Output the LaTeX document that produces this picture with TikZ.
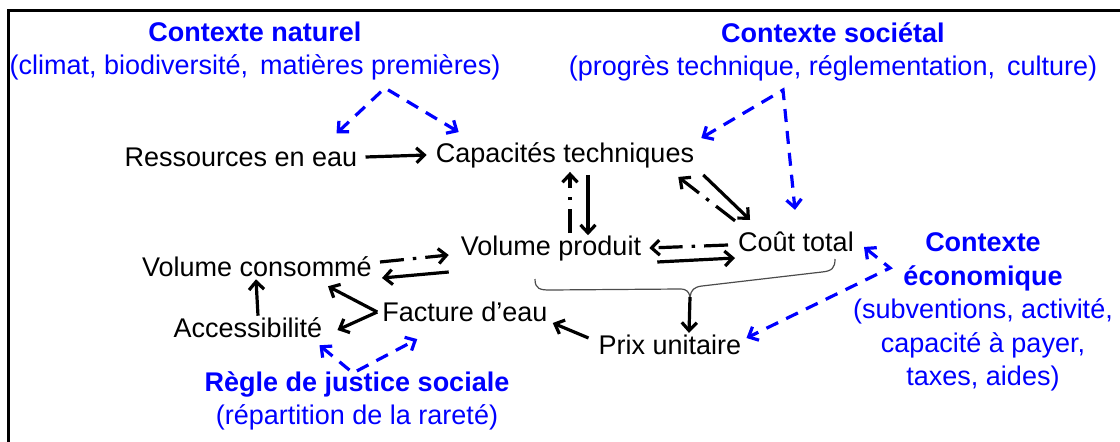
\documentclass[tikz,border=0pt]{standalone}
\usepackage{fontspec}
\setmainfont{Liberation Sans}
\usetikzlibrary{arrows.meta}

\begin{document}
\begin{tikzpicture}[x=1pt,y=-1pt,>={Straight Barb[length=8pt,width=15pt]},font=\fontsize{27}{33.5}\selectfont]
        \tikzset{term/.style={inner sep=0pt},
                 ctx/.style={text=blue, align=center, inner sep=0pt},
                 arr/.style={->, line width=3.2pt},
                 dd/.style={arr, dash pattern=on 24pt off 9pt on 3.5pt off 9pt},
                 blink/.style={<->, draw=blue, line width=3.2pt, dash pattern=on 13pt off 9pt}}
        \useasboundingbox (0,0) rectangle (1120,442);
        \draw[line width=3pt] (8,442) -- (8,10) -- (1120,10);
        % context blocks
        \node[ctx] (naturel) at (255,51) {\textbf{Contexte naturel}\\(climat, biodiversité,\, matières premières)};
        \node[ctx] (societal) at (833,52) {\textbf{Contexte sociétal}\\(progrès technique, réglementation,\, culture)};
        \node[ctx] (economique) at (983,312) {\textbf{Contexte}\\\textbf{économique}\\(subventions, activité,\\capacité à payer,\\taxes, aides)};
        \node[ctx] (justice) at (357,401) {\textbf{Règle de justice sociale}\\(répartition de la rareté)};
        % variables
        \node[term] (ressources) at (241,157) {Ressources en eau};
        \node[term] (capacites) at (565,155) {Capacités techniques};
        \node[term] (volprod) at (551,249) {Volume produit};
        \node[term] (cout) at (796,242) {Coût total};
        \node[term] (volcons) at (257,267) {Volume consommé};
        \node[term] (facture) at (465,312) {Facture d’eau};
        \node[term] (access) at (248,328) {Accessibilité};
        \node[term] (prix) at (670,345) {Prix unitaire};
        \coordinate (natapex) at (385,88);
        \coordinate (socapex) at (783,90);
        \coordinate (ecobend) at (890,268);
        \coordinate (jusapex) at (353,373);
        \coordinate (bracetip) at (690,297);
        % links
        \draw[arr] ([xshift=8]ressources.east) -- ([xshift=-9]capacites.west);
        \draw[dd] ([xshift=19,yshift=3]volprod.north) -- ([xshift=5,yshift=-4]capacites.south);
        \draw[arr] ([xshift=23,yshift=-7]capacites.south) -- ([xshift=37,yshift=1]volprod.north);
        \draw[dd] ([xshift=-3,yshift=11]cout.north west) -- ([xshift=-16,yshift=-9]capacites.south east);
        \draw[arr] ([xshift=9,yshift=-7]capacites.south east) -- ([xshift=12,yshift=12]cout.north west);
        \draw[dd] ([xshift=-10,yshift=-3]cout.west) -- ([xshift=8,yshift=1]volprod.east);
        \draw[arr] ([xshift=16,yshift=-13]volprod.east) -- ([xshift=-3,yshift=-16]cout.west);
        \draw[dd] ([xshift=8,yshift=5]volcons.east) -- ([xshift=-12,yshift=-6]volprod.west);
        \draw[arr] ([xshift=-12,yshift=-23]volprod.west) -- ([xshift=10,yshift=-11]volcons.east);
        \draw[arr] ([xshift=-5]facture.west) -- ([xshift=71,yshift=-9]volcons.south);
        \draw[arr] ([xshift=-5]facture.west) -- ([xshift=15,yshift=-2]access.east);
        \draw[arr] ([xshift=10,yshift=2]access.north) -- ([xshift=-1,yshift=-2]volcons.south);
        \draw[arr] ([xshift=-10,yshift=7]prix.west) -- ([xshift=5,yshift=-11]facture.east);
        % brace over production and cost
        \draw[black!70, line width=1.2pt] (535,279) .. controls (535,289) and (540,290) .. (550,290) -- (680,289)
            .. controls (687,289) and (689,292) .. (bracetip) .. controls (691,290) and (694,287) .. (702,286)
            -- (822,272) .. controls (832,271) and (835,268) .. (835,259);
        \draw[arr] (bracetip) -- ([xshift=19,yshift=2]prix.north);
        % context influences
        \draw[blink] ([xshift=-21,yshift=14]ressources.north east) -- (natapex) -- ([xshift=23,yshift=10]capacites.north west);
        \draw[blink] ([xshift=7,yshift=4]capacites.north east) -- (socapex) -- ([xshift=-1,yshift=22]cout.north);
        \draw[blink] ([xshift=10,yshift=-5]cout.east) -- (ecobend) -- ([xshift=5,yshift=7]prix.east);
        \draw[blink] ([xshift=-3,yshift=-7]access.south east) -- (jusapex) -- ([xshift=35,yshift=-17]facture.south west);
    \end{tikzpicture}
\end{document}
